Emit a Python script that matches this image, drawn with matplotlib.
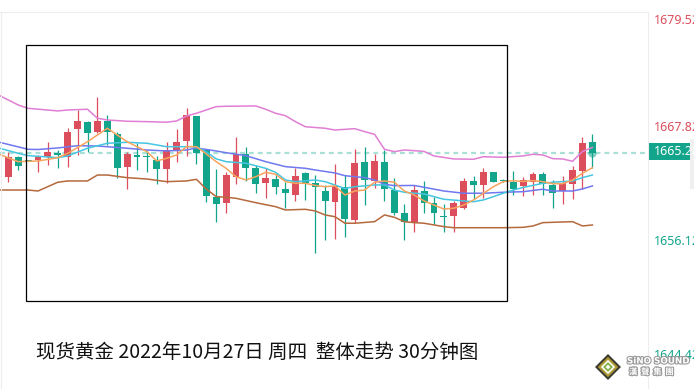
"""Spot gold 30-minute candlestick chart with moving averages and bands."""

import matplotlib
import matplotlib.lines
import matplotlib.patches
import matplotlib.patheffects
import matplotlib.pyplot as plt

matplotlib.use('Agg')

UP = '#dc4e5c'
DOWN = '#12a58b'
CJK = ['Noto Sans CJK SC', 'DejaVu Sans']

# Candles (index 0..59).
opens = [1662.82, 1664.87, 1664.50, 1664.57, 1664.87, 1665.25, 1664.87, 1667.72, 1668.44, 1667.44,
         1668.54, 1667.20, 1663.85, 1665.05, 1664.98, 1664.53, 1663.61, 1665.53, 1666.49, 1669.08,
         1665.56, 1660.71, 1660.15, 1662.82, 1665.15, 1663.71, 1662.20, 1662.58, 1661.56, 1660.97,
         1663.20, 1662.14, 1661.35, 1660.25, 1661.73, 1658.37, 1664.33, 1662.38, 1664.33, 1661.45,
         1659.12, 1658.14, 1661.35, 1660.15, 1658.79, 1658.82, 1659.58, 1662.35, 1661.97, 1663.27,
         1662.48, 1662.25, 1661.87, 1662.31, 1663.07, 1661.97, 1661.35, 1662.10, 1663.44, 1666.35]
highs = [1665.39, 1664.95, 1664.53, 1665.05, 1666.41, 1665.56, 1667.79, 1669.67, 1668.54, 1671.03,
         1669.16, 1667.44, 1665.39, 1666.25, 1665.56, 1664.98, 1666.41, 1667.72, 1669.90, 1669.10,
         1665.58, 1663.61, 1663.27, 1666.93, 1665.90, 1664.02, 1663.68, 1663.07, 1662.31, 1663.68,
         1663.27, 1662.99, 1661.97, 1664.12, 1662.99, 1665.66, 1665.87, 1665.15, 1665.56, 1662.66,
         1660.02, 1661.97, 1662.38, 1660.71, 1660.02, 1660.33, 1662.66, 1662.89, 1663.68, 1663.27,
         1662.55, 1663.41, 1662.82, 1663.27, 1663.27, 1662.45, 1662.92, 1663.92, 1666.93, 1667.20]
lows = [1662.31, 1663.51, 1664.40, 1663.33, 1664.02, 1663.74, 1663.85, 1665.05, 1665.39, 1667.30,
        1666.07, 1662.72, 1661.56, 1663.51, 1663.33, 1662.07, 1662.20, 1664.36, 1664.98, 1664.12,
        1660.19, 1658.14, 1659.12, 1662.07, 1662.41, 1661.18, 1660.66, 1661.04, 1659.64, 1660.36,
        1660.43, 1654.96, 1656.32, 1656.42, 1656.66, 1658.04, 1659.91, 1661.69, 1660.33, 1658.89,
        1656.32, 1657.17, 1659.12, 1657.93, 1657.17, 1657.17, 1659.50, 1660.53, 1660.60, 1662.31,
        1662.31, 1660.94, 1660.87, 1660.94, 1660.94, 1659.64, 1660.05, 1660.53, 1661.56, 1663.68]
closes = [1664.87, 1663.95, 1664.43, 1664.84, 1665.39, 1665.05, 1667.44, 1668.54, 1667.34, 1668.54,
          1667.44, 1663.74, 1665.15, 1664.87, 1664.81, 1663.61, 1665.56, 1666.35, 1669.16, 1665.28,
          1660.84, 1660.02, 1662.99, 1665.15, 1663.74, 1662.10, 1662.69, 1661.79, 1661.18, 1662.92,
          1662.17, 1661.79, 1660.33, 1661.87, 1658.48, 1664.23, 1662.48, 1664.43, 1661.56, 1659.12,
          1658.14, 1661.45, 1660.09, 1659.12, 1658.68, 1660.15, 1662.38, 1661.97, 1663.27, 1662.31,
          1662.38, 1661.56, 1662.45, 1663.07, 1662.04, 1661.18, 1662.14, 1663.51, 1666.25, 1665.28]

# Indicator lines: candle index -> value.
upper_x = [-1, 1, 2, 5, 6, 8, 9, 10, 12, 14, 16, 17, 18, 19, 20, 21, 22, 25, 26, 27, 28, 29, 30,
           32, 33, 35, 36, 37, 38, 39, 40, 41, 42, 43, 45, 47, 48, 50, 52, 53, 54, 55, 56, 57,
           58, 59]
upper_y = [1671.21, 1670.18, 1669.84, 1669.57, 1669.67, 1669.74, 1668.82, 1668.64, 1668.51,
           1668.47, 1668.41, 1668.54, 1669.05, 1669.33, 1669.67, 1670.01, 1670.05, 1670.08,
           1669.74, 1669.33, 1669.08, 1668.47, 1667.95, 1667.79, 1667.61, 1667.75, 1667.44,
           1667.17, 1665.63, 1665.39, 1665.56, 1665.49, 1665.41, 1664.95, 1664.64, 1664.61,
           1664.87, 1664.81, 1664.95, 1665.12, 1665.05, 1664.67, 1664.64, 1664.40, 1665.41,
           1665.82]
lower_x = [-1, 2, 3, 5, 6, 8, 9, 10, 12, 14, 16, 18, 19, 20, 21, 22, 23, 25, 27, 28, 30, 31, 32,
           33, 34, 35, 37, 38, 39, 40, 41, 42, 44, 45, 50, 52, 53, 54, 56, 57, 58, 59]
lower_y = [1661.45, 1661.45, 1661.35, 1662.25, 1662.38, 1662.38, 1662.99, 1662.99, 1662.72,
           1662.58, 1662.31, 1662.38, 1662.55, 1661.55, 1660.77, 1660.71, 1660.60, 1660.15,
           1659.74, 1659.40, 1659.47, 1659.30, 1658.89, 1658.71, 1658.04, 1658.04, 1658.20,
           1658.89, 1658.65, 1658.20, 1658.10, 1658.04, 1657.69, 1657.58, 1657.58, 1657.62,
           1657.76, 1658.10, 1658.17, 1658.20, 1657.76, 1657.86]
blue_x = [-1, 2, 3, 5, 7, 9, 11, 12, 14, 16, 18, 19, 21, 22, 24, 26, 28, 30, 31, 33, 34, 36, 37,
          38, 39, 41, 42, 44, 46, 48, 50, 52, 54, 55, 57, 58, 59]
blue_y = [1666.38, 1665.63, 1665.61, 1665.77, 1666.00, 1665.97, 1665.82, 1665.74, 1665.56,
          1665.46, 1665.56, 1665.77, 1665.46, 1665.28, 1664.98, 1664.36, 1663.85, 1663.68,
          1663.51, 1663.20, 1662.92, 1662.72, 1662.48, 1662.04, 1661.90, 1661.92, 1661.73,
          1661.35, 1661.12, 1661.12, 1661.22, 1661.28, 1661.53, 1661.35, 1661.35, 1661.56,
          1661.87]
cyan_x = [-1, 1, 2, 5, 6, 8, 10, 12, 14, 16, 19, 20, 21, 22, 24, 26, 27, 28, 29, 31, 32, 34, 35,
          37, 38, 39, 40, 42, 44, 46, 47, 48, 49, 50, 51, 52, 54, 55, 57, 58, 59]
cyan_y = [1665.77, 1665.22, 1664.98, 1664.77, 1664.95, 1665.74, 1666.25, 1666.35, 1666.25,
          1665.90, 1665.90, 1665.36, 1664.65, 1664.36, 1664.20, 1663.68, 1663.27, 1662.48,
          1662.31, 1662.48, 1662.31, 1661.61, 1661.79, 1661.97, 1661.97, 1661.45, 1661.22,
          1661.04, 1660.50, 1660.33, 1660.25, 1660.43, 1660.77, 1661.12, 1661.45, 1661.71,
          1662.14, 1662.25, 1662.38, 1662.72, 1662.99]
orange_x = [-1, 1, 3, 5, 6, 8, 10, 12, 14] + list(range(15, 60))
orange_y = [1665.15, 1664.36, 1664.43, 1664.77, 1665.22, 1666.41, 1667.79, 1666.41, 1665.39,
            1664.43, 1664.71, 1665.05, 1665.90, 1665.90, 1665.15, 1664.36, 1663.68, 1662.82,
            1662.48, 1662.82, 1663.27, 1663.07, 1662.31, 1662.14, 1662.14, 1661.92, 1661.79,
            1661.87, 1660.94, 1661.35, 1661.45, 1662.25, 1662.38, 1662.25, 1661.35, 1660.94,
            1660.33, 1659.91, 1659.50, 1659.58, 1659.91, 1660.43, 1661.12, 1661.79, 1662.31,
            1662.41, 1662.33, 1662.41, 1662.31, 1662.10, 1662.10, 1662.48, 1663.17, 1663.74]

axis_prices = [1679.52, 1667.82, 1656.12, 1644.42]
last_price = 1665.28
title = '现货黄金 2022年10月27日 周四  整体走势 30分钟图'

W, H = 694, 389
XLIM = (-0.84, 64.62)
YLIM = (1641.02, 1680.96)


def _plot_candles(axes):
    for i, (o, h, l, c) in enumerate(zip(opens, highs, lows, closes)):
        color = UP if c > o else DOWN
        axes.vlines(i, l, h, color=color, lw=0.9, zorder=3)
        axes.bar(i, max(abs(c - o), 0.1), bottom=min(o, c), width=0.7,
                 color=color, lw=0, zorder=4)


def _plot_lines(axes):
    for xs, ys, color in [(upper_x, upper_y, '#e07fd4'),
                          (lower_x, lower_y, '#b5693c'),
                          (blue_x, blue_y, '#6f78ee'),
                          (cyan_x, cyan_y, '#45c6e0'),
                          (orange_x, orange_y, '#f7a45e')]:
        axes.plot(xs, ys, color=color, lw=1.1, zorder=5)


def _price_axis(fig):
    rax = fig.add_axes([648 / W, 0, (W - 648) / W, 1])
    rax.set_xlim(0, 1)
    rax.set_ylim(*YLIM)
    rax.axis('off')
    for p in axis_prices:
        rax.text(0.13, p, f'{p:.2f}', color=UP if p > last_price else DOWN,
                 fontsize=9, va='top' if p == max(axis_prices) else 'center',
                 ha='left', family='Noto Sans')
    rax.add_patch(matplotlib.patches.Rectangle(
        (0, last_price - 0.72), 1, 1.75, color=DOWN, lw=0))
    rax.text(0.13, last_price + 0.15, f'{last_price:.2f}', color='white',
             fontsize=9, va='center', ha='left', family='Noto Sans',
             fontweight='medium')
    rax.add_patch(matplotlib.patches.Rectangle(
        (0.92, 1661.6), 0.1, 5.1, color='#efefef', lw=0))


def _logo(fig):
    lax = fig.add_axes([595 / W, 1 - 380 / H, 26 / W, 26 / H])
    lax.set_xlim(-1, 1)
    lax.set_ylim(-1, 1)
    lax.axis('off')
    for r, c in [(1.0, '#3a3a30'), (0.78, '#b09a35'), (0.55, '#ffffff'),
                 (0.38, '#86b24a'), (0.18, '#ffffff')]:
        lax.add_patch(matplotlib.patches.Polygon(
            [(0, r), (r, 0), (0, -r), (-r, 0)], closed=True, color=c, lw=0))
    halo = [matplotlib.patheffects.withStroke(linewidth=1.6, foreground='#9a9a9a')]
    fig.text(627 / W, 1 - 361 / H, 'SiNO SOUND', color='white', fontsize=6.3,
             fontweight='bold', va='center', ha='left', path_effects=halo,
             family='Liberation Sans Narrow')
    fig.text(629 / W, 1 - 372 / H, '漢  聲  集  團', color='white', fontsize=6,
             fontweight='bold', va='center', ha='left', path_effects=halo,
             family=['Noto Sans CJK TC', 'DejaVu Sans'])


def main():
    fig = plt.figure(figsize=(W / 100, H / 100), dpi=100)
    fig.patch.set_facecolor('white')

    ax = fig.add_axes([0, 0, 648 / W, 1])
    ax.set_xlim(*XLIM)
    ax.set_ylim(*YLIM)
    ax.axis('off')

    _plot_lines(ax)
    _plot_candles(ax)
    ax.axhline(last_price, color='#a9e0d5', lw=1.6, ls=(0, (2.2, 1.8)), zorder=2)
    ax.scatter([len(closes) - 1], [last_price], s=35, color=DOWN, alpha=0.55,
               lw=0, zorder=6)

    # panel borders
    for xs, ys in [([1 / W, 1 / W], [0, 1 - 12 / H]),
                   ([648 / W, 648 / W], [0, 1 - 12 / H]),
                   ([0, 648 / W], [1 - 12 / H, 1 - 12 / H])]:
        fig.add_artist(matplotlib.lines.Line2D(xs, ys, color='#ededed', lw=0.8))

    # highlight box
    fig.add_artist(matplotlib.patches.Rectangle(
        (26 / W, 1 - 301 / H), (507 - 26) / W, (301 - 45) / H,
        fill=False, ec='black', lw=0.9, transform=fig.transFigure))

    _price_axis(fig)
    fig.text(36 / W, 1 - 352 / H, title, fontsize=14, va='center', ha='left',
             family=CJK, color='#111111')
    _logo(fig)

    fig.savefig('out.png', dpi=100)
    plt.close(fig)


if __name__ == '__main__':
    main()
